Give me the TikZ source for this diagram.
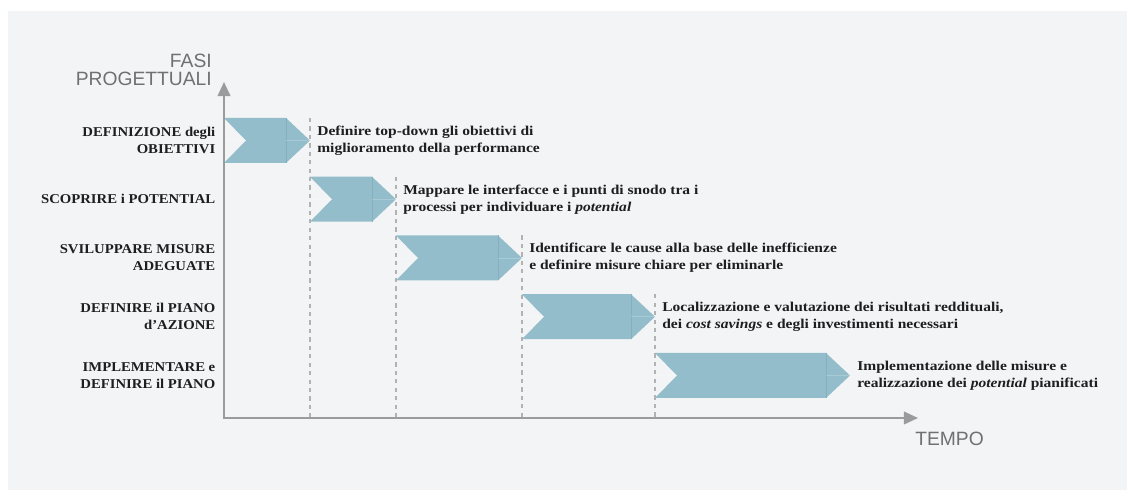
\documentclass[tikz,border=0pt]{standalone}
\usepackage{fontspec}
\setmainfont{Liberation Serif}
\newfontfamily\descfont[FakeStretch=1.15]{Liberation Serif}
\newfontfamily\phasefont[FakeStretch=1.09]{Liberation Serif}
\newfontfamily\axisfont{Liberation Sans}
\usetikzlibrary{arrows.meta, positioning, calc}
\definecolor{panelgray}{HTML}{F3F4F6}
\definecolor{chevronblue}{HTML}{93BDCA}
\definecolor{chevronline}{HTML}{84B0BF}
\definecolor{axisgray}{HTML}{9B9B9B}
\definecolor{guidegray}{HTML}{B2B2B2}
\definecolor{labelgray}{HTML}{707070}
\definecolor{textdark}{HTML}{1E1E1E}

\begin{document}
\begin{tikzpicture}[x=0.025cm, y=-0.025cm,
    phaselabel/.style={align=right, inner sep=0, text=textdark, font=\phasefont\bfseries\fontsize{9.6}{12.1}\selectfont},
    desc/.style={align=left, inner sep=0, text=textdark, font=\descfont\bfseries\fontsize{9.6}{12.1}\selectfont},
    axislabel/.style={inner sep=0, text=labelgray, font=\axisfont\fontsize{13.7}{12.2}\selectfont},
    axisline/.style={draw=axisgray, line width=1.4pt, {Triangle[length=10pt, width=9pt]}-{Triangle[length=10pt, width=9pt]}},
    guide/.style={draw=guidegray, line width=1pt, dash pattern=on 3pt off 3pt}]

    % Page and panel
    \fill[white] (0,0) rectangle (1127,491);
    \fill[panelgray] (8,11) rectangle (1127,490);

    % Axes
    \coordinate (origin) at (224,418);
    \coordinate (ytip) at (224,82);
    \coordinate (xtip) at (918,418);

    % Phase chevrons: start / tip / centre
    \foreach \xa/\xb/\yc/\n in {224/310/140.5/1, 310/396/199.25/2, 396/522/258/3, 522/655/316.75/4, 655/850/375.5/5}{
        \fill[chevronblue] (\xa,{\yc-22.5}) -- ({\xb-24},{\yc-22.5}) -- (\xb,\yc)
            -- ({\xb-24},{\yc+22.5}) -- (\xa,{\yc+22.5}) -- ({\xa+22},\yc) -- cycle;
        \draw[chevronline, line width=0.4pt] ({\xb-24},{\yc-22.5}) -- ({\xb-24},{\yc+22.5});
        \draw[white, opacity=0.2, line width=0.4pt] (\xa,\yc) -- ({\xa+22},\yc);
        \draw[white, opacity=0.2, line width=0.4pt] ({\xb-24},\yc) -- (\xb,\yc);
        \coordinate (tip\n) at (\xb,\yc);
        \coordinate (top\n) at (\xb,{\yc-22.5});
    }

    % Dashed guides down to the time axis
    \foreach \n in {1,2,3,4}{
        \draw[guide] (top\n) -- (top\n |- origin);
    }

    \draw[axisline] (ytip) -- (origin) -- (xtip);

    % Axis names
    \node[axislabel, align=right, anchor=south east] (yname) at (212,85.5) {FASI\\PROGETTUALI};
    \node[axislabel, anchor=base west] (xname) at (915,446) {TEMPO};

    % Phase names on the left
    \node[phaselabel, left=6pt of origin |- tip1] (phase1) {DEFINIZIONE degli\\OBIETTIVI};
    \node[phaselabel, left=6pt of origin |- tip2] (phase2) {SCOPRIRE i POTENTIAL};
    \node[phaselabel, left=6pt of origin |- tip3] (phase3) {SVILUPPARE MISURE\\ADEGUATE};
    \node[phaselabel, left=6pt of origin |- tip4] (phase4) {DEFINIRE il PIANO\\d’AZIONE};
    \node[phaselabel, left=6pt of origin |- tip5] (phase5) {IMPLEMENTARE e\\DEFINIRE il PIANO};

    % Descriptions next to each tip
    \node[desc, right=5pt of tip1] (desc1) {Definire top-down gli obiettivi di\\miglioramento della performance};
    \node[desc, right=5pt of tip2] (desc2) {Mappare le interfacce e i punti di snodo tra i\\processi per individuare i \textit{potential}};
    \node[desc, right=5pt of tip3] (desc3) {Identificare le cause alla base delle inefficienze\\e definire misure chiare per eliminarle};
    \node[desc, right=5pt of tip4] (desc4) {Localizzazione e valutazione dei risultati reddituali,\\dei \textit{cost savings} e degli investimenti necessari};
    \node[desc, right=5pt of tip5] (desc5) {Implementazione delle misure e\\realizzazione dei \textit{potential} pianificati};
\end{tikzpicture}
\end{document}
